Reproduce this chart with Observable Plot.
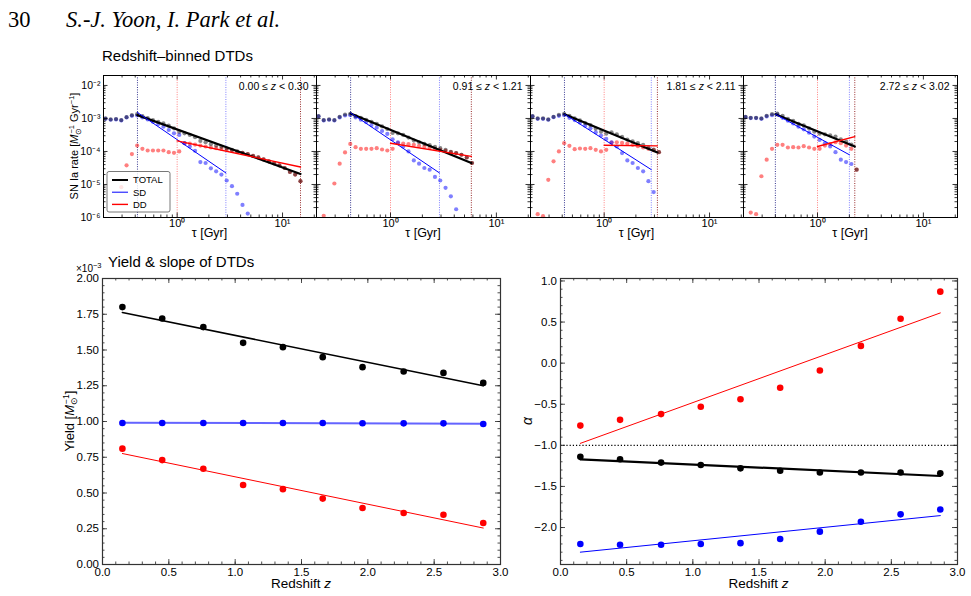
<!DOCTYPE html>
<html>
<head>
<meta charset="utf-8">
<script src="https://cdn.jsdelivr.net/npm/d3@7"></script>
<script src="https://cdn.jsdelivr.net/npm/@observablehq/plot@0.6"></script>
<style>
  body { margin: 0; background: #fff; }
  #fig { position: relative; width: 971px; height: 596px; overflow: hidden; background: #fff; }
</style>
</head>
<body>
<div id="fig"></div>
<script>
// ---------- data ----------
// delay-time bins (Gyr), shared by all redshift panels
const TAU = [0.209,0.234,0.263,0.295,0.331,0.372,0.417,0.468,0.525,0.589,0.661,0.741,0.832,0.933,
  1.047,1.175,1.318,1.479,1.660,1.862,2.089,2.344,2.630,2.951,3.311,3.715,4.169,4.677,5.248,5.888,
  6.607,7.413,8.318,9.333,10.47,11.75,13.18,14.79];

const BIN_LO = ["0.00", "0.91", "1.81", "2.72"];
const BIN_HI = ["0.30", "1.21", "2.11", "3.02"];

// log10 of the SN Ia rate [Msun^-1 Gyr^-1] per delay-time bin (null: off the axis)
const LOG_RATE_TOTAL = [
  [-3.00,-3.03,-3.02,-3.05,-2.96,-2.90,-2.87,-2.93,-2.99,-3.05,-3.10,-3.15,-3.22,-3.30,-3.40,-3.45,-3.50,-3.57,-3.68,-3.72,-3.78,-3.82,-3.86,-3.91,-3.95,-4.00,-4.04,-4.08,-4.13,-4.18,-4.24,-4.30,-4.36,-4.42,-4.50,-4.62,-4.70,-4.90],
  [-2.93,-3.05,-3.03,-3.05,-2.95,-2.88,-2.86,-2.93,-2.98,-3.04,-3.10,-3.16,-3.24,-3.32,-3.44,-3.45,-3.50,-3.58,-3.67,-3.72,-3.77,-3.81,-3.86,-3.90,-3.95,-4.01,-4.05,-4.10,-4.18,-4.35],
  [-2.93,-3.00,-3.00,-3.03,-2.95,-2.89,-2.86,-2.92,-3.00,-3.06,-3.14,-3.20,-3.31,-3.40,-3.46,-3.42,-3.48,-3.56,-3.64,-3.69,-3.75,-3.80,-3.88,-3.94,-4.02],
  [-2.95,-2.98,-2.98,-3.00,-2.92,-2.87,-2.85,-2.92,-3.01,-3.07,-3.16,-3.21,-3.30,-3.40,-3.46,-3.48,-3.51,-3.55,-3.63,-3.70,-3.79,-4.55]
];
const LOG_RATE_SD = [
  [-3.01,-3.04,-3.03,-3.06,-2.97,-2.92,-2.91,-2.97,-3.03,-3.10,-3.17,-3.25,-3.35,-3.45,-3.50,-3.75,-3.85,-3.98,-4.32,-4.35,-4.51,-4.60,-4.70,-4.88,-5.05,-5.28,-5.62,-5.88],
  [-2.94,-3.06,-3.04,-3.06,-2.97,-2.91,-2.90,-2.97,-3.04,-3.11,-3.20,-3.28,-3.38,-3.47,-3.63,-3.72,-3.85,-4.00,-4.27,-4.37,-4.50,-4.55,-4.77,-4.88,-5.10,-5.36,-5.75],
  [-2.94,-3.01,-3.01,-3.04,-2.96,-2.92,-2.90,-2.98,-3.05,-3.12,-3.22,-3.30,-3.42,-3.52,-3.62,-3.72,-3.85,-4.05,-4.27,-4.35,-4.50,-4.60,-4.90,-5.23],
  [-2.96,-2.99,-2.99,-3.01,-2.94,-2.90,-2.88,-2.98,-3.07,-3.15,-3.25,-3.33,-3.43,-3.55,-3.65,-3.75,-3.85,-4.02,-4.25,-4.32,-4.38]
];
const LOG_RATE_DD = [
  [null,null,null,-5.08,-4.42,-4.08,-3.82,-3.92,-3.97,-3.97,-3.97,-3.97,-4.02,-4.04,-4.00,-3.75,-3.76,-3.79,-3.82,-3.85,-3.88,-3.90,-3.92,-3.95,-3.98,-4.01,-4.04,-4.08,-4.13,-4.18,-4.24,-4.30,-4.36,-4.42,-4.50,-4.62,-4.70,-4.90],
  [null,-5.95,null,-4.97,-4.37,-4.03,-3.77,-3.87,-3.92,-3.92,-3.92,-3.90,-3.94,-3.97,-3.92,-3.75,-3.76,-3.78,-3.80,-3.83,-3.86,-3.89,-3.92,-3.95,-3.98,-4.02,-4.05,-4.10,-4.18,-4.35],
  [null,-5.90,-5.96,-4.86,-4.30,-4.00,-3.75,-3.83,-3.93,-3.91,-3.92,-3.90,-3.95,-4.00,-3.95,-3.73,-3.72,-3.74,-3.76,-3.80,-3.84,-3.88,-3.92,-3.96,-4.02],
  [null,-5.85,-5.90,-4.75,-4.25,-3.92,-3.80,-3.80,-3.88,-3.87,-3.88,-3.84,-3.88,-3.92,-3.92,-3.82,-3.78,-3.72,-3.75,-3.82,-3.92,-4.55]
];

// power-law fits: [tau start, log10 rate start, tau end, log10 rate end]
const FIT_TOTAL = [[0.42,-2.90,14.8,-4.68],[0.42,-2.85,5.8,-4.35],[0.42,-2.87,3.2,-4.03],[0.40,-2.87,2.25,-3.85]];
const FIT_SD    = [[0.42,-2.82,2.9,-4.65],[0.42,-2.83,2.9,-4.65],[0.42,-2.87,2.8,-4.55],[0.40,-2.87,2.0,-4.10]];
const FIT_DD    = [[1.0,-3.68,14.8,-4.47],[1.0,-3.75,5.8,-4.15],[1.0,-3.81,3.2,-3.83],[1.0,-3.85,2.25,-3.55]];

// fit-window boundaries and cosmic age per panel (Gyr)
const SD_FIT_START = [0.42, 0.42, 0.42, 0.40];
const DD_FIT_START = [1.0, 1.0, 1.0, 1.0];
const SD_FIT_END   = [2.9, 2.9, 2.8, 2.0];
const AGE          = [14.8, 5.8, 3.2, 2.25];

// redshift-bin centres and derived quantities
const Z = [0.15, 0.45, 0.76, 1.06, 1.36, 1.66, 1.96, 2.27, 2.57, 2.87];
const YIELD_TOTAL = [1.80, 1.72, 1.66, 1.55, 1.52, 1.45, 1.38, 1.35, 1.34, 1.27];   // x 1e-3 Msun^-1
const YIELD_SD    = [0.99, 0.99, 0.99, 0.99, 0.99, 0.99, 0.988, 0.987, 0.987, 0.982];
const YIELD_DD    = [0.81, 0.73, 0.67, 0.556, 0.527, 0.461, 0.395, 0.36, 0.348, 0.29];
const SLOPE_TOTAL = [-1.14, -1.17, -1.21, -1.24, -1.28, -1.31, -1.33, -1.33, -1.33, -1.34];
const SLOPE_SD    = [-2.20, -2.21, -2.21, -2.20, -2.19, -2.14, -2.05, -1.93, -1.84, -1.78];
const SLOPE_DD    = [-0.76, -0.69, -0.62, -0.53, -0.44, -0.30, -0.09, 0.21, 0.54, 0.87];

// linear trends with redshift, evaluated at the first and last bin
const FIT_Z = [0.15, 2.87];
const YIELD_FIT_TOTAL = [1.762, 1.25];
const YIELD_FIT_SD    = [0.992, 0.984];
const YIELD_FIT_DD    = [0.776, 0.255];
const SLOPE_FIT_TOTAL = [-1.17, -1.373];
const SLOPE_FIT_SD    = [-2.30, -1.855];
const SLOPE_FIT_DD    = [-0.976, 0.611];

// ---------- layout ----------
const fig = document.getElementById("fig");
const FONT = '"Liberation Sans", Arial, Helvetica, sans-serif';
const SERIF = '"Liberation Serif", "Times New Roman", serif';
const TOP_LEFT = [103, 316, 530, 743];
const TOP_RIGHT = [316, 530, 743, 957];
const TOP_Y0 = 75, TOP_Y1 = 217;
const BOT_Y0 = 278, BOT_Y1 = 564;

const SUP = {"-": "\u207B", "0": "\u2070", "1": "\u00B9", "2": "\u00B2", "3": "\u00B3", "4": "\u2074",
  "5": "\u2075", "6": "\u2076", "7": "\u2077", "8": "\u2078", "9": "\u2079"};
const pow10Label = v => "10" + String(Math.round(Math.log10(v))).split("").map(c => SUP[c]).join("");
const isDecade = v => Math.abs(Math.log10(v) - Math.round(Math.log10(v))) < 1e-6;

function place(svg, left, top) {
  svg.style.position = "absolute";
  svg.style.left = left + "px";
  svg.style.top = top + "px";
  fig.appendChild(svg);
}

// inward ticks on all four sides of a frame
function frameTicks(FW, FH, xMaj, xMin, yMaj, yMin, lMaj, lMin, color) {
  const o = {stroke: color, strokeWidth: 0.8};
  return [
    Plot.tickX(xMin, {x: d => d, insetTop: FH - lMin, ...o}),
    Plot.tickX(xMin, {x: d => d, insetBottom: FH - lMin, ...o}),
    Plot.tickX(xMaj, {x: d => d, insetTop: FH - lMaj, ...o}),
    Plot.tickX(xMaj, {x: d => d, insetBottom: FH - lMaj, ...o}),
    Plot.tickY(yMin, {y: d => d, insetRight: FW - lMin, ...o}),
    Plot.tickY(yMin, {y: d => d, insetLeft: FW - lMin, ...o}),
    Plot.tickY(yMaj, {y: d => d, insetRight: FW - lMaj, ...o}),
    Plot.tickY(yMaj, {y: d => d, insetLeft: FW - lMaj, ...o})
  ];
}

// ---------- redshift-binned DTD panels ----------
const X_DOM = [0.2, 21], Y_DOM = [1e-6, 0.02];
const xLogTicks = d3.scaleLog().domain(X_DOM).ticks().filter(v => v > X_DOM[0] && v < X_DOM[1]);
const yLogTicks = d3.scaleLog().domain(Y_DOM).ticks().filter(v => v >= Y_DOM[0] && v < Y_DOM[1]);

function topPanel(i) {
  const mL = 36, mR = 4, mT = 4, mB = 22;
  const FW = TOP_RIGHT[i] - TOP_LEFT[i], FH = TOP_Y1 - TOP_Y0;
  const series = arr => TAU.map((t, k) => ({t, v: arr[i][k]}))
    .filter(d => d.v != null).map(d => ({t: d.t, r: 10 ** d.v}));
  const fitLine = f => [{t: f[i][0], r: 10 ** f[i][1]}, {t: f[i][2], r: 10 ** f[i][3]}];
  const vline = (arr, color) => Plot.ruleX([arr[i]], {x: d => d, stroke: color, strokeWidth: 1, strokeDasharray: "1,1.4"});
  const marks = [
    vline(SD_FIT_START, "#34348f"),
    vline(DD_FIT_START, "#ff8080"),
    vline(SD_FIT_END, "#8080ff"),
    vline(AGE, "#962828"),
    Plot.dot(series(LOG_RATE_DD), {x: "t", y: "r", r: 2.1, fill: "#ff0000", fillOpacity: 0.5}),
    Plot.dot(series(LOG_RATE_SD), {x: "t", y: "r", r: 2.1, fill: "#0000ff", fillOpacity: 0.5}),
    Plot.dot(series(LOG_RATE_TOTAL), {x: "t", y: "r", r: 2.1, fill: "#000", fillOpacity: 0.47}),
    Plot.line(fitLine(FIT_TOTAL), {x: "t", y: "r", stroke: "#000", strokeWidth: 2.2}),
    Plot.line(fitLine(FIT_SD), {x: "t", y: "r", stroke: "#0000ff", strokeWidth: 1}),
    Plot.line(fitLine(FIT_DD), {x: "t", y: "r", stroke: "#ff0000", strokeWidth: 1.4}),
    ...frameTicks(FW, FH, xLogTicks.filter(isDecade), xLogTicks.filter(v => !isDecade(v)),
      yLogTicks.filter(isDecade), yLogTicks.filter(v => !isDecade(v)), 4.5, 2.5, "#000"),
    Plot.frame({stroke: "#000", strokeWidth: 1}),
    Plot.axisX({ticks: [1, 10], tickFormat: pow10Label, tickSize: 0, tickPadding: 2, fontSize: 11, label: null})
  ];
  if (i === 0) {
    marks.push(Plot.axisY({ticks: yLogTicks.filter(isDecade), tickFormat: pow10Label, tickSize: 0,
      tickPadding: 3, fontSize: 10.5, label: null}));
  }
  const svg = Plot.plot({
    width: mL + FW + mR, height: mT + FH + mB,
    marginLeft: mL, marginRight: mR, marginTop: mT, marginBottom: mB,
    x: {type: "log", domain: X_DOM},
    y: {type: "log", domain: Y_DOM, axis: i === 0 ? undefined : null},
    style: {background: "transparent", overflow: "visible", fontFamily: FONT, fontSize: "10px", color: "#000"},
    marks
  });
  place(svg, TOP_LEFT[i] - mL, TOP_Y0 - mT);
}
[0, 1, 2, 3].forEach(topPanel);

// ---------- yield and slope panels ----------
function bottomPanel(cfg) {
  const mL = 48, mR = 6, mT = 8, mB = 26;
  const FW = cfg.x1 - cfg.x0, FH = BOT_Y1 - BOT_Y0;
  const pts = vals => Z.map((z, k) => ({z, v: vals[k]}));
  const fit = f => [{z: FIT_Z[0], v: f[0]}, {z: FIT_Z[1], v: f[1]}];
  const xMaj = d3.range(0, 3.0001, 0.5), xMin = d3.range(0, 3.0001, 0.1);
  const marks = [];
  if (cfg.ref != null) marks.push(Plot.ruleY([cfg.ref], {y: d => d, stroke: "#000", strokeWidth: 1.2, strokeDasharray: "1.2,2"}));
  for (const s of cfg.series) {
    marks.push(Plot.line(fit(s.fit), {x: "z", y: "v", stroke: s.line, strokeWidth: s.width, strokeOpacity: s.opacity ?? 1}));
  }
  for (const s of cfg.series) {
    marks.push(Plot.dot(pts(s.vals), {x: "z", y: "v", r: 3.3, fill: s.color}));
  }
  marks.push(
    ...frameTicks(FW, FH, xMaj, xMin, cfg.yMaj, cfg.yMin, 5, 2.5, "#222"),
    Plot.frame({stroke: "#333", strokeWidth: 1.2}),
    Plot.axisX({ticks: xMaj, tickFormat: d3.format(".1f"), tickSize: 0, tickPadding: 3, fontSize: 11.5, label: null}),
    Plot.axisY({ticks: cfg.yMaj, tickFormat: d3.format(cfg.yFmt), tickSize: 0, tickPadding: 3.5, fontSize: 11.5, label: null})
  );
  const svg = Plot.plot({
    width: mL + FW + mR, height: mT + FH + mB,
    marginLeft: mL, marginRight: mR, marginTop: mT, marginBottom: mB,
    x: {domain: [0, 3]},
    y: {domain: cfg.yDom},
    style: {background: "transparent", overflow: "visible", fontFamily: FONT, fontSize: "11.5px", color: "#000"},
    marks
  });
  place(svg, cfg.x0 - mL, BOT_Y0 - mT);
}

bottomPanel({
  x0: 102, x1: 500, yDom: [0, 2.0], yFmt: ".2f",
  yMaj: d3.range(0, 2.0001, 0.25), yMin: d3.range(0, 2.0001, 0.05),
  series: [
    {vals: YIELD_TOTAL, fit: YIELD_FIT_TOTAL, color: "#000", line: "#000", width: 1.6},
    {vals: YIELD_SD, fit: YIELD_FIT_SD, color: "#0000ff", line: "#3030ff", width: 2, opacity: 0.75},
    {vals: YIELD_DD, fit: YIELD_FIT_DD, color: "#ff0000", line: "#ff0000", width: 1}
  ]
});

bottomPanel({
  x0: 560, x1: 957, yDom: [-2.45, 1.03], yFmt: ".1f", ref: -1,
  yMaj: d3.range(-2.0, 1.0001, 0.5), yMin: d3.range(-2.4, 1.0001, 0.1),
  series: [
    {vals: SLOPE_TOTAL, fit: SLOPE_FIT_TOTAL, color: "#000", line: "#000", width: 2.2},
    {vals: SLOPE_SD, fit: SLOPE_FIT_SD, color: "#0000ff", line: "#0000ff", width: 1},
    {vals: SLOPE_DD, fit: SLOPE_FIT_DD, color: "#ff0000", line: "#ff0000", width: 1}
  ]
});

// ---------- titles, axis labels, legend ----------
const ov = d3.create("svg").attr("width", 971).attr("height", 596)
  .style("position", "absolute").style("left", "0px").style("top", "0px")
  .style("overflow", "visible").style("pointer-events", "none");

function rich(x, y, parts, {size, anchor = "start", rotate = 0, family = FONT, italic = false}) {
  const t = ov.append("text").attr("x", x).attr("y", y).attr("font-size", size)
    .attr("font-family", family).attr("text-anchor", anchor).attr("fill", "#000");
  if (italic) t.attr("font-style", "italic");
  if (rotate) t.attr("transform", `rotate(${rotate},${x},${y})`);
  for (const p of parts) {
    const [s, o] = typeof p === "string" ? [p, {}] : p;
    const ts = t.append("tspan").text(s);
    if (o.italic) ts.attr("font-style", "italic");
    if (o.size) ts.attr("font-size", o.size);
    if (o.dy) ts.attr("dy", o.dy);
    if (o.dx) ts.attr("dx", o.dx);
  }
}

rich(8, 27, ["30"], {size: 22.5, family: SERIF});
rich(66, 27, ["S.-J. Yoon, I. Park et al."], {size: 22.5, family: SERIF, italic: true});
rich(102, 61, ["Redshift\u2013binned DTDs"], {size: 15});
rich(108, 266.5, ["Yield & slope of DTDs"], {size: 15});
rich(76, 271.5, ["\u00D710", ["\u22123", {size: 7.5, dy: -4}]], {size: 10});

rich(78, 146, ["SN Ia rate [", ["M", {italic: true}], ["\u2299", {size: 7.5, dy: 2.5}],
  ["\u22121", {size: 7.5, dy: -7, dx: -6}], [" Gyr", {dy: 4.5}], ["\u22121", {size: 7.5, dy: -4.5}], ["]", {dy: 4.5}]],
  {size: 11, anchor: "middle", rotate: -90});

for (let i = 0; i < 4; i++) {
  const cx = (TOP_LEFT[i] + TOP_RIGHT[i]) / 2;
  rich(cx, 236.5, ["\u03C4 [Gyr]"], {size: 12.5, anchor: "middle"});
  rich(TOP_RIGHT[i] - 7.5, 90, [BIN_LO[i] + " \u2264 ", ["z", {italic: true}], " < " + BIN_HI[i]], {size: 10.5, anchor: "end"});
}

rich(301, 588, ["Redshift ", ["z", {italic: true}]], {size: 13.5, anchor: "middle"});
rich(758.5, 588, ["Redshift ", ["z", {italic: true}]], {size: 13.5, anchor: "middle"});
rich(74, 421, ["Yield [", ["M", {italic: true}], ["\u2299", {size: 8.5, dy: 3}],
  ["\u22121", {size: 8.5, dy: -8, dx: -7}], ["]", {dy: 5}]], {size: 13, anchor: "middle", rotate: -90});
rich(532, 421, ["\u03B1"], {size: 14, anchor: "middle", rotate: -90, italic: true});

// legend of the first DTD panel
const lg = ov.append("g");
lg.append("rect").attr("x", 107).attr("y", 171.5).attr("width", 63).attr("height", 40.5).attr("rx", 2)
  .attr("fill", "#fff").attr("fill-opacity", 0.8).attr("stroke", "#555").attr("stroke-width", 0.8);
[["TOTAL", "#000", 2], ["SD", "#0000ff", 1], ["DD", "#ff0000", 1.4]].forEach(([name, color, w], j) => {
  const y = 180 + j * 12.2;
  lg.append("line").attr("x1", 112).attr("x2", 128).attr("y1", y).attr("y2", y)
    .attr("stroke", color).attr("stroke-width", w);
  lg.append("text").attr("x", 133).attr("y", y + 3.4).attr("font-size", 9.5)
    .attr("font-family", FONT).attr("fill", "#000").text(name);
});

fig.appendChild(ov.node());
</script>
</body>
</html>
